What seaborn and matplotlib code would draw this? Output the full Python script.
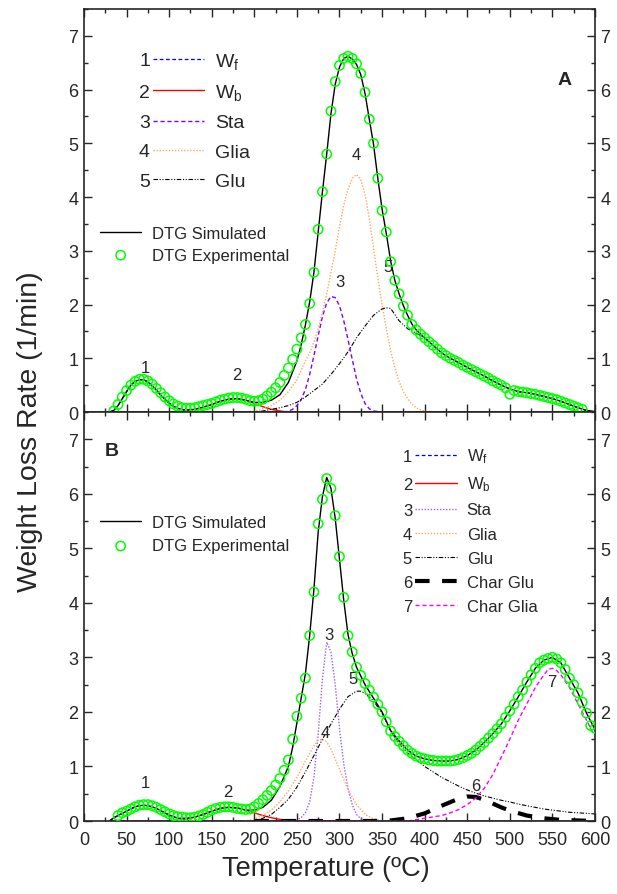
import numpy as np
import matplotlib
matplotlib.use("Agg")
import matplotlib.pyplot as plt
import seaborn as sns
from matplotlib.ticker import MultipleLocator

# ---------------- panel A : experimental DTG (every 5 degC) ----------------
tA_exp = np.arange(35, 590, 5)
yA_exp = [0.02, 0.14, 0.28, 0.40, 0.50, 0.57, 0.61, 0.61, 0.58, 0.52,
          0.44, 0.36, 0.28, 0.21, 0.15, 0.11, 0.08, 0.07, 0.07, 0.08,
          0.10, 0.12, 0.14, 0.16, 0.19, 0.22, 0.24, 0.26, 0.27, 0.27,
          0.26, 0.24, 0.21, 0.20, 0.21, 0.24, 0.30, 0.37, 0.45, 0.55,
          0.68, 0.82, 0.98, 1.17, 1.38, 1.63, 2.02, 2.60, 3.40, 4.10,
          4.80, 5.60, 6.15, 6.45, 6.58, 6.62, 6.58, 6.48, 6.30, 5.95,
          5.45, 5.00, 4.35, 3.75, 3.35, 2.80, 2.45, 2.20, 1.97, 1.80,
          1.63, 1.53, 1.45, 1.38, 1.31, 1.24, 1.17, 1.10, 1.05, 1.00,
          0.96, 0.92, 0.87, 0.83, 0.79, 0.75, 0.71, 0.67, 0.63, 0.58,
          0.54, 0.50, 0.45, 0.33, 0.40, 0.38, 0.37, 0.36, 0.34, 0.33,
          0.31, 0.29, 0.27, 0.25, 0.23, 0.20, 0.17, 0.14, 0.11, 0.08,
          0.05]

# panel A : simulated DTG
tA_sim = [30, 35, 40, 45, 50, 55, 60, 65, 70, 75, 80, 85, 90, 95, 100, 105, 110,
          115, 120, 130, 140, 150, 160, 170, 180, 190, 200, 210, 220, 230, 240,
          250, 255, 260, 265, 270, 275, 280, 285, 290, 295, 300, 305, 310, 315,
          320, 325, 330, 335, 340, 345, 350, 355, 360, 365, 370, 375, 380, 385,
          390, 400, 410, 420, 430, 440, 450, 460, 470, 480, 490, 500, 510, 520,
          530, 540, 550, 560, 570, 580, 590, 600]
yA_sim = [0.0, 0.03, 0.12, 0.25, 0.38, 0.50, 0.57, 0.60, 0.60, 0.56, 0.49, 0.41,
          0.32, 0.24, 0.17, 0.11, 0.07, 0.05, 0.04, 0.05, 0.09, 0.14, 0.20, 0.24,
          0.25, 0.22, 0.18, 0.18, 0.22, 0.32, 0.55, 0.95, 1.25, 1.62, 2.05, 2.60,
          3.35, 4.10, 4.80, 5.55, 6.10, 6.42, 6.58, 6.62, 6.57, 6.47, 6.28, 5.93,
          5.45, 4.98, 4.35, 3.78, 3.32, 2.82, 2.45, 2.20, 1.98, 1.80, 1.64, 1.53,
          1.38, 1.24, 1.10, 1.00, 0.92, 0.83, 0.75, 0.67, 0.58, 0.50, 0.43, 0.38,
          0.36, 0.33, 0.29, 0.25, 0.20, 0.14, 0.08, 0.03, 0.01]

# panel A : components
tA_wf = [30, 35, 40, 45, 50, 55, 60, 65, 70, 75, 80, 85, 90, 95, 100, 105, 110, 115, 120, 130, 600]
yA_wf = [0.0, 0.03, 0.12, 0.25, 0.38, 0.50, 0.57, 0.60, 0.60, 0.56, 0.49, 0.41, 0.32,
         0.24, 0.17, 0.11, 0.07, 0.04, 0.02, 0.0, 0.0]
tA_wb = [30, 110, 120, 130, 140, 150, 160, 170, 175, 180, 190, 200, 210, 220, 230, 240, 600]
yA_wb = [0.0, 0.0, 0.02, 0.05, 0.09, 0.14, 0.20, 0.24, 0.25, 0.25, 0.22, 0.16, 0.10,
         0.05, 0.02, 0.0, 0.0]
tA_sta = [30, 235, 240, 245, 250, 255, 260, 265, 270, 275, 280, 285, 290, 295, 300,
          305, 310, 315, 320, 325, 330, 335, 340, 350, 600]
yA_sta = [0.0, 0.0, 0.02, 0.05, 0.12, 0.23, 0.42, 0.70, 1.05, 1.42, 1.78, 2.03, 2.15,
          2.13, 1.98, 1.70, 1.35, 0.98, 0.62, 0.35, 0.16, 0.06, 0.02, 0.0, 0.0]
tA_glia = [30, 190, 200, 210, 220, 230, 240, 250, 260, 265, 270, 275, 280, 285, 290,
           295, 300, 305, 310, 315, 320, 325, 330, 335, 340, 345, 350, 355, 360, 365,
           370, 375, 380, 385, 390, 395, 400, 410, 600]
yA_glia = [0.0, 0.0, 0.02, 0.06, 0.12, 0.22, 0.38, 0.60, 0.95, 1.10, 1.30, 1.55, 1.85,
           2.20, 2.60, 3.00, 3.45, 3.85, 4.15, 4.35, 4.42, 4.32, 4.05, 3.60, 3.05,
           2.50, 2.00, 1.55, 1.15, 0.82, 0.57, 0.38, 0.25, 0.15, 0.08, 0.04, 0.02,
           0.0, 0.0]
tA_glu = [30, 200, 210, 220, 230, 240, 250, 260, 270, 280, 290, 300, 310, 320, 330,
          340, 350, 355, 360, 370, 380, 390, 400, 410, 420, 430, 440, 450, 460, 470,
          480, 490, 500, 510, 520, 530, 540, 550, 560, 570, 580, 590, 600]
yA_glu = [0.0, 0.0, 0.02, 0.05, 0.08, 0.12, 0.18, 0.28, 0.40, 0.52, 0.70, 0.90, 1.12,
          1.38, 1.60, 1.80, 1.92, 1.94, 1.93, 1.70, 1.55, 1.47, 1.38, 1.24, 1.10,
          1.00, 0.92, 0.83, 0.75, 0.67, 0.58, 0.50, 0.43, 0.38, 0.36, 0.33, 0.29,
          0.25, 0.20, 0.14, 0.08, 0.03, 0.0]

# ---------------- panel B : experimental DTG (every 5 degC) ----------------
tB_exp = np.arange(40, 605, 5)
yB_exp = [0.10, 0.15, 0.18, 0.22, 0.26, 0.29, 0.30, 0.30, 0.28, 0.25,
          0.21, 0.17, 0.13, 0.10, 0.08, 0.07, 0.06, 0.06, 0.07, 0.09,
          0.12, 0.16, 0.20, 0.23, 0.25, 0.26, 0.26, 0.25, 0.23, 0.22,
          0.21, 0.22, 0.26, 0.32, 0.39, 0.47, 0.56, 0.66, 0.78, 0.93,
          1.12, 1.50, 1.92, 2.25, 2.62, 3.40, 4.20, 5.45, 5.90, 6.28,
          6.10, 5.60, 4.85, 4.10, 3.40, 3.10, 2.82, 2.67, 2.52, 2.40,
          2.27, 2.14, 2.00, 1.82, 1.65, 1.55, 1.46, 1.38, 1.30, 1.24,
          1.19, 1.16, 1.14, 1.12, 1.11, 1.10, 1.10, 1.10, 1.10, 1.11,
          1.13, 1.16, 1.20, 1.24, 1.30, 1.37, 1.44, 1.52, 1.60, 1.69,
          1.78, 1.90, 2.02, 2.14, 2.28, 2.40, 2.55, 2.68, 2.80, 2.90,
          2.95, 2.98, 3.00, 2.97, 2.90, 2.78, 2.62, 2.50, 2.35, 2.18,
          1.98, 1.75, 1.70]

# panel B : simulated DTG
tB_sim = [30, 35, 40, 45, 50, 55, 60, 65, 70, 75, 80, 85, 90, 95, 100, 110, 120, 130,
          140, 150, 160, 170, 180, 190, 200, 210, 220, 230, 240, 245, 250, 255, 260,
          265, 270, 275, 280, 285, 290, 295, 300, 305, 310, 315, 320, 325, 330, 340,
          350, 360, 370, 380, 390, 400, 410, 420, 430, 440, 450, 460, 470, 480, 490,
          500, 510, 520, 530, 540, 550, 560, 570, 580, 590, 600]
yB_sim = [0.0, 0.06, 0.10, 0.14, 0.18, 0.22, 0.26, 0.28, 0.29, 0.28, 0.26, 0.23, 0.19,
          0.15, 0.11, 0.05, 0.05, 0.07, 0.12, 0.18, 0.23, 0.25, 0.24, 0.20, 0.20, 0.25,
          0.38, 0.63, 1.00, 1.35, 1.80, 2.25, 2.70, 3.40, 4.25, 5.30, 5.95, 6.30, 6.10,
          5.55, 4.80, 4.05, 3.42, 3.07, 2.82, 2.66, 2.50, 2.25, 2.00, 1.66, 1.47, 1.30,
          1.19, 1.14, 1.11, 1.10, 1.10, 1.13, 1.20, 1.30, 1.44, 1.60, 1.78, 2.02, 2.28,
          2.55, 2.80, 2.95, 3.00, 2.90, 2.62, 2.35, 1.98, 1.68]

# panel B : components
tB_wf = [30, 35, 40, 45, 50, 55, 60, 65, 70, 75, 80, 85, 90, 95, 100, 105, 110, 115, 120, 130, 600]
yB_wf = [0.0, 0.06, 0.10, 0.14, 0.18, 0.22, 0.26, 0.28, 0.29, 0.28, 0.26, 0.23, 0.19,
         0.15, 0.11, 0.08, 0.05, 0.03, 0.02, 0.0, 0.0]
tB_wb = [30, 110, 120, 130, 140, 150, 160, 165, 170, 180, 190, 200, 210, 220, 230, 240, 250, 600]
yB_wb = [0.0, 0.0, 0.03, 0.07, 0.12, 0.18, 0.23, 0.25, 0.25, 0.24, 0.20, 0.15, 0.10,
         0.06, 0.03, 0.01, 0.0, 0.0]
tB_sta = [30, 245, 250, 255, 260, 265, 270, 275, 280, 285, 290, 295, 300, 305, 310,
          315, 320, 325, 330, 340, 600]
yB_sta = [0.0, 0.0, 0.02, 0.06, 0.15, 0.35, 0.80, 1.60, 2.60, 3.28, 3.10, 2.50, 1.70,
          1.05, 0.60, 0.30, 0.12, 0.04, 0.01, 0.0, 0.0]
tB_glia = [30, 190, 200, 210, 220, 230, 240, 250, 260, 270, 275, 280, 285, 290, 300,
           310, 320, 330, 340, 350, 600]
yB_glia = [0.0, 0.0, 0.04, 0.10, 0.20, 0.35, 0.55, 0.80, 1.10, 1.38, 1.48, 1.50, 1.45,
           1.32, 0.95, 0.58, 0.30, 0.12, 0.04, 0.0, 0.0]
tB_glu = [30, 200, 210, 220, 230, 240, 250, 260, 270, 280, 290, 300, 310, 320, 325,
          330, 340, 350, 360, 370, 380, 390, 400, 410, 420, 430, 440, 450, 460, 470,
          480, 490, 500, 510, 520, 530, 540, 550, 560, 570, 580, 590, 600]
yB_glu = [0.0, 0.0, 0.05, 0.12, 0.25, 0.40, 0.62, 0.90, 1.20, 1.50, 1.78, 2.05, 2.28,
          2.38, 2.38, 2.34, 2.20, 1.98, 1.65, 1.42, 1.25, 1.12, 1.00, 0.90, 0.80,
          0.72, 0.64, 0.57, 0.51, 0.46, 0.42, 0.38, 0.35, 0.31, 0.28, 0.25, 0.22,
          0.20, 0.18, 0.16, 0.15, 0.14, 0.13]
tB_cglu = [200, 340, 360, 380, 400, 420, 440, 450, 460, 470, 480, 490, 500, 520, 540,
           560, 580, 600]
yB_cglu = [0.0, 0.0, 0.01, 0.05, 0.14, 0.28, 0.41, 0.45, 0.44, 0.39, 0.32, 0.25, 0.19,
           0.10, 0.05, 0.02, 0.01, 0.0]
tB_cglia = [30, 380, 400, 420, 430, 440, 450, 460, 470, 480, 490, 500, 510, 520, 530,
            540, 545, 550, 555, 560, 570, 580, 590, 600]
yB_cglia = [0.0, 0.0, 0.05, 0.10, 0.15, 0.21, 0.30, 0.42, 0.60, 0.85, 1.17, 1.50, 1.85,
            2.15, 2.45, 2.68, 2.78, 2.80, 2.76, 2.68, 2.45, 2.15, 1.85, 1.55]

# peak numbers written next to the curves
numA_x = [71.6, 179, 300, 320, 357]
numA_y = [0.83, 0.70, 2.43, 4.79, 2.71]
numB_x = [71.6, 169, 288, 283, 316, 460, 549]
numB_y = [0.71, 0.55, 3.42, 1.63, 2.62, 0.66, 2.56]

# ---------------- style ----------------
sns.set_style("ticks")
plt.rcParams["font.family"] = ["Liberation Sans", "DejaVu Sans"]
plt.rcParams["mathtext.default"] = "regular"

GREEN = "#00ff00"
dash = (0, (3, 2))
dot = (0, (1, 1.2))
dashdotdot = (0, (4, 1.5, 1, 1.5, 1, 1.5))

fig = plt.figure(figsize=(6.17, 8.95), dpi=100)
axA = fig.add_axes([0.1361, 0.5385, 0.8282, 0.4503])
axB = fig.add_axes([0.1361, 0.08156, 0.8282, 0.4570])


def line(ax, t, v, **kw):
    sns.lineplot(x=t, y=v, ax=ax, sort=False, estimator=None, errorbar=None, **kw)
    return ax.lines[-1]


def exp_points(ax, t, v):
    sns.scatterplot(x=t, y=v, ax=ax, marker="o", s=45, facecolors="none",
                    edgecolor=GREEN, linewidth=1.1, zorder=5)
    return ax.collections[-1]


# ---- panel A ----
hA = []
hA.append(line(axA, tA_wf, yA_wf, color="#0000ff", lw=0.9, linestyle=dash))
hA.append(line(axA, tA_wb, yA_wb, color="#ff0000", lw=1.0))
hA.append(line(axA, tA_sta, yA_sta, color="#8000ff", lw=1.0, linestyle=dash))
hA.append(line(axA, tA_glia, yA_glia, color="#ffa860", lw=1.0, linestyle=dot))
hA.append(line(axA, tA_glu, yA_glu, color="black", lw=0.8, linestyle=dashdotdot))
simA = line(axA, tA_sim, yA_sim, color="black", lw=1.0)
expA = exp_points(axA, tA_exp, yA_exp)

# ---- panel B ----
hB = []
hB.append(line(axB, tB_wf, yB_wf, color="#0000ff", lw=0.9, linestyle=dash))
hB.append(line(axB, tB_wb, yB_wb, color="#ff0000", lw=1.0))
hB.append(line(axB, tB_sta, yB_sta, color="#9a5cff", lw=1.0, linestyle=dot))
hB.append(line(axB, tB_glia, yB_glia, color="#ffa860", lw=1.0, linestyle=dot))
hB.append(line(axB, tB_glu, yB_glu, color="black", lw=0.8, linestyle=dashdotdot))
hB.append(line(axB, tB_cglu, yB_cglu, color="black", lw=3.0, linestyle=(0, (3.5, 3))))
hB.append(line(axB, tB_cglia, yB_cglia, color="#ff00ff", lw=1.0, linestyle=dash))
simB = line(axB, tB_sim, yB_sim, color="black", lw=1.0)
expB = exp_points(axB, tB_exp, yB_exp)

for ax in (axA, axB):
    ax.set_xlim(0, 600)
    ax.set_ylim(0, 7.5)
    ax.xaxis.set_major_locator(MultipleLocator(50))
    ax.xaxis.set_minor_locator(MultipleLocator(25))
    ax.yaxis.set_major_locator(MultipleLocator(1))
    ax.yaxis.set_minor_locator(MultipleLocator(0.5))
    ax.tick_params(which="both", direction="in", top=True, right=True,
                   labelright=True, width=1, labelsize=13, pad=4)
    ax.tick_params(axis="x", which="both", pad=7)
    ax.tick_params(which="major", length=6)
    ax.tick_params(which="minor", length=3)
    for s in ax.spines.values():
        s.set_linewidth(1.2)
    ax.set_xlabel("")
    ax.set_ylabel("")
axA.tick_params(labelbottom=False)

for x, y, n in zip(numA_x, numA_y, range(1, 6)):
    axA.text(x, y, str(n), ha="center", va="center", fontsize=12)
for x, y, n in zip(numB_x, numB_y, range(1, 8)):
    axB.text(x, y, str(n), ha="center", va="center", fontsize=12)

axA.text(0.941, 0.826, "A", transform=axA.transAxes, fontsize=14,
         fontweight="bold", ha="center", va="center")
axB.text(0.055, 0.905, "B", transform=axB.transAxes, fontsize=14,
         fontweight="bold", ha="center", va="center")

labelsA = ["W$_f$", "W$_b$", "Sta", "Glia", "Glu"]
labelsB = ["W$_f$", "W$_b$", "Sta", "Glia", "Glu", "Char Glu", "Char Glia"]

legA = axA.legend(hA, labelsA, loc="upper left", bbox_to_anchor=(0.135, 0.897),
                  frameon=False, fontsize=14, handlelength=2.6, handletextpad=0.6,
                  labelspacing=0.6, borderpad=0, borderaxespad=0)
axA.add_artist(legA)
axA.legend([simA, expA], ["DTG Simulated", "DTG Experimental"], loc="upper left",
           bbox_to_anchor=(0.031, 0.462), frameon=False, fontsize=12,
           handlelength=2.5, handletextpad=0.65, labelspacing=0.4,
           borderpad=0, borderaxespad=0)

legB = axB.legend(hB, labelsB, loc="upper left", bbox_to_anchor=(0.648, 0.915),
                  frameon=False, fontsize=12, handlelength=2.5, handletextpad=0.6,
                  labelspacing=0.55, borderpad=0, borderaxespad=0)
axB.add_artist(legB)
axB.legend([simB, expB], ["DTG Simulated", "DTG Experimental"], loc="upper left",
           bbox_to_anchor=(0.031, 0.748), frameon=False, fontsize=12,
           handlelength=2.5, handletextpad=0.65, labelspacing=0.5,
           borderpad=0, borderaxespad=0)

fig.text(0.049, 0.518, "Weight Loss Rate (1/min)", rotation=90, ha="center",
         va="center", fontsize=20.5)
fig.text(0.528, 0.029, "Temperature (ºC)", ha="center", va="center", fontsize=19.5)

# numbers in front of the component legend entries
fig.canvas.draw()
rend = fig.canvas.get_renderer()
W, H = fig.bbox.width, fig.bbox.height
for leg, fs in ((legA, 14), (legB, 12)):
    for i, ln in enumerate(leg.get_lines()):
        bb = ln.get_window_extent(rend)
        fig.text((bb.x0 - 3) / W, (bb.y0 + bb.y1) / 2 / H, str(i + 1),
                 ha="right", va="center_baseline", fontsize=fs)

fig.savefig("out.png", dpi=100)
